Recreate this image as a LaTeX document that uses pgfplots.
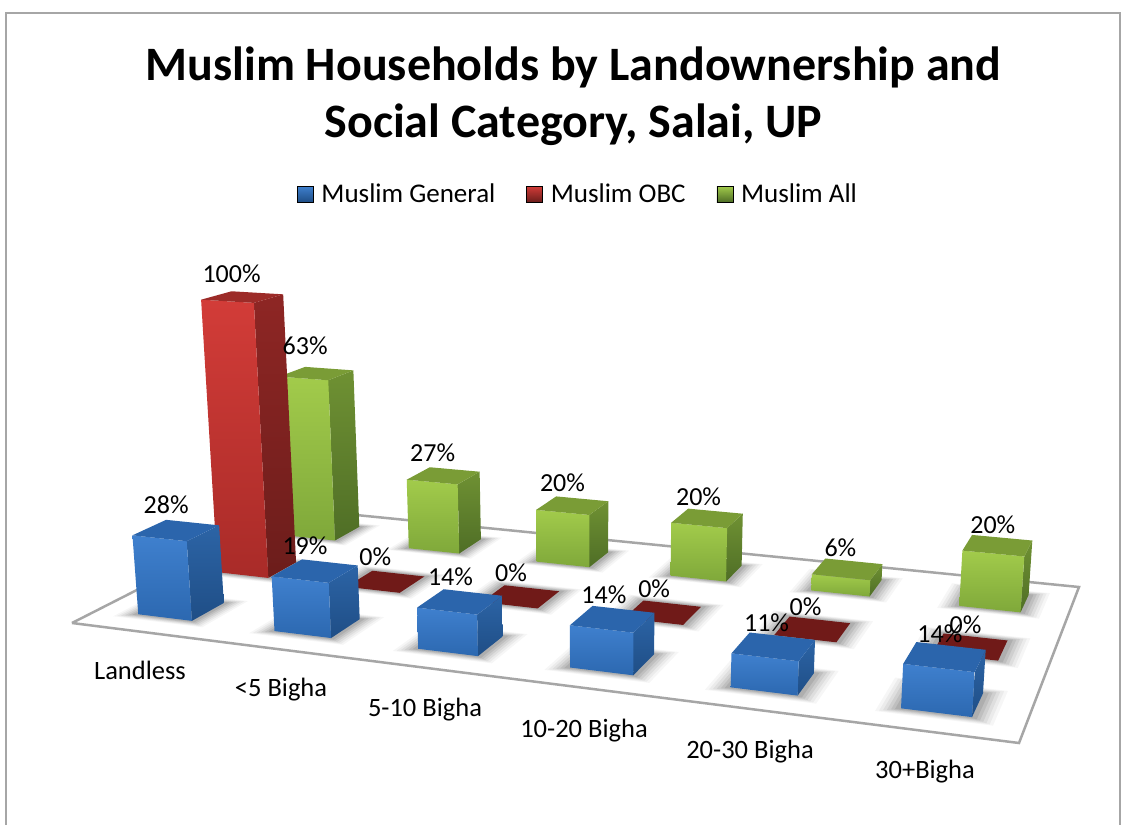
\documentclass[border=0pt]{standalone}
\usepackage{fontspec}
\setmainfont{Carlito}
\usepackage{pgfplots}
\pgfplotsset{compat=1.18}
\usepackage{pgfplotstable}

\definecolor{bfa}{HTML}{3F80CE}\definecolor{bfb}{HTML}{2C68B0}
\definecolor{bsa}{HTML}{2C64A6}\definecolor{bsb}{HTML}{1F4E86}
\definecolor{btop}{HTML}{2B65AC}
\definecolor{rfa}{HTML}{D23C38}\definecolor{rfb}{HTML}{A92B28}
\definecolor{rsa}{HTML}{8E2624}\definecolor{rsb}{HTML}{6C1D1B}
\definecolor{rtop}{HTML}{9C2B28}\definecolor{rflat}{HTML}{701A18}
\definecolor{gfa}{HTML}{A2CB4B}\definecolor{gfb}{HTML}{7FA83A}
\definecolor{gsa}{HTML}{6F9133}\definecolor{gsb}{HTML}{4F6E26}
\definecolor{gtop}{HTML}{7A9C36}
\definecolor{edge}{HTML}{A6A6A6}

% perspective of the floor: u = category, v = series, z = percent; result in picture pixels
\newcommand\PW[3]{(1-0.026407*#1+0.073863*#2-0.00045*#3)}
\newcommand\PX[3]{((130.925*#1+96.53*#2-0.27*#3+72)/\PW{#1}{#2}{#3})}
\newcommand\PY[3]{((0.38*#1-0.4033*#2-3.1*#3+623)/\PW{#1}{#2}{#3})}

\pgfplotsset{
  /pgfplots/table/box/.style n args={3}{
    x expr={\PX{(#1+.3+.4*\thisrow{a})}{(#2+.3+.4*\thisrow{b})}{(#3*\thisrow{c})}},
    y expr={\PY{(#1+.3+.4*\thisrow{a})}{(#2+.3+.4*\thisrow{b})}{(#3*\thisrow{c})}}},
  /pgfplots/table/shade box/.style n args={3}{
    x expr={\PX{(#1+.3-#3+(.4+2*#3)*\thisrow{a})}{(#2+.3-.7*#3+(.4+1.4*#3)*\thisrow{b})}{0}},
    y expr={\PY{(#1+.3-#3+(.4+2*#3)*\thisrow{a})}{(#2+.3-.7*#3+(.4+1.4*#3)*\thisrow{b})}{0}}},
}

\pgfplotstableread{
a b c
0 0 0
1 0 0
1 0 1
0 0 1
}\facefront
\pgfplotstableread{
a b c
1 0 0
1 1 0
1 1 1
1 0 1
}\faceside
\pgfplotstableread{
a b c
0 0 1
1 0 1
1 1 1
0 1 1
}\facetop

% k category, j series, value, dy nudge of the label
\pgfplotstableread{
k j h dy
0 2 63 -6
1 2 27 0
2 2 20 0
3 2 20 0
4 2 6 0
5 2 20 0
0 1 100 -3
1 1 0 0
2 1 0 0
3 1 0 0
4 1 0 0
5 1 0 0
0 0 28 0
1 0 19 0
2 0 14 0
3 0 14 0
4 0 11 0
5 0 14 0
}\bardata

\newcommand\barshadow[2]{%
  \addplot[forget plot, fill=black, draw=none, fill opacity=.035] table[shade box={#1}{#2}{.13}] \facetop;
  \addplot[forget plot, fill=black, draw=none, fill opacity=.045] table[shade box={#1}{#2}{.11}] \facetop;
  \addplot[forget plot, fill=black, draw=none, fill opacity=.055] table[shade box={#1}{#2}{.09}] \facetop;
  \addplot[forget plot, fill=black, draw=none, fill opacity=.065] table[shade box={#1}{#2}{.07}] \facetop;
  \addplot[forget plot, fill=black, draw=none, fill opacity=.075] table[shade box={#1}{#2}{.05}] \facetop;
  \addplot[forget plot, fill=black, draw=none, fill opacity=.085] table[shade box={#1}{#2}{.03}] \facetop;
}
\newcommand\cuboid[5]{%
  \barshadow{#1}{#2}%
  \ifnum#3>0
  \addplot[forget plot, draw=none, top color=#4sa, bottom color=#4sb] table[box={#1}{#2}{#3}] \faceside;
  \addplot[forget plot, draw=none, top color=#4fa, bottom color=#4fb] table[box={#1}{#2}{#3}] \facefront;
  \fi
  \addplot[forget plot, draw=none, fill=#5] table[box={#1}{#2}{#3}] \facetop;
}

\begin{document}
\begin{tikzpicture}
\path[use as bounding box] (0,0) rectangle (1131pt,825pt);
\begin{axis}[
    scale only axis,
    width=1131pt, height=825pt,
    xmin=0, xmax=1131, ymin=0, ymax=825,
    y dir=reverse,
    hide axis,
    clip=false,
    title={Muslim Households by Landownership and\\Social Category, Salai, UP},
    title style={at={(0.507,0.876)}, anchor=center, align=center,
      font=\fontsize{48}{57}\selectfont\bfseries},
    legend style={at={(axis cs:578,194)}, anchor=center, draw=none, fill=none,
      legend columns=3, font=\fontsize{27}{30}\selectfont,
      /tikz/every even column/.style={column sep=29pt},
      legend cell align=left},
]
% chart frame
\addplot[forget plot, edge, line width=1.5pt] coordinates {(6,825)(6,13)(1120,13)(1120,825)};

% floor
\addplot[forget plot, fill=white, draw=edge, line width=2.5pt, line join=miter]
  table[x expr={\PX{\thisrow{u}}{\thisrow{v}}{0}}, y expr={\PY{\thisrow{u}}{\thisrow{v}}{0}}, row sep=\\]
  {u v\\ 0 0\\ 6 0\\ 6 3\\ 0 3\\ 0 0\\};

% Muslim All
\cuboid{0}{2}{63}{g}{gtop}
\cuboid{1}{2}{27}{g}{gtop}
\cuboid{2}{2}{20}{g}{gtop}
\cuboid{3}{2}{20}{g}{gtop}
\cuboid{4}{2}{6}{g}{gtop}
\cuboid{5}{2}{20}{g}{gtop}
% Muslim OBC
\cuboid{0}{1}{100}{r}{rtop}
\cuboid{1}{1}{0}{r}{rflat}
\cuboid{2}{1}{0}{r}{rflat}
\cuboid{3}{1}{0}{r}{rflat}
\cuboid{4}{1}{0}{r}{rflat}
\cuboid{5}{1}{0}{r}{rflat}
% Muslim General
\cuboid{0}{0}{28}{b}{btop}
\cuboid{1}{0}{19}{b}{btop}
\cuboid{2}{0}{14}{b}{btop}
\cuboid{3}{0}{14}{b}{btop}
\cuboid{4}{0}{11}{b}{btop}
\cuboid{5}{0}{14}{b}{btop}

% value labels above the back left corner of each bar
\addplot[forget plot, draw=none, mark=none, point meta=explicit,
    nodes near coords={\pgfmathprintnumber[fixed,precision=0,/pgf/number format/assume math mode=true]{\pgfplotspointmeta}\%},
    every node near coord/.style={anchor=center, yshift=15pt, font=\fontsize{26}{30}\selectfont, text=black}]
  table[x expr={\PX{(\thisrow{k}*1.03+.3)}{(\thisrow{j}+.7-.015*\thisrow{k})}{\thisrow{h}}},
        y expr={\PY{(\thisrow{k}*1.03+.3)}{(\thisrow{j}+.7-.015*\thisrow{k})}{\thisrow{h}}+\thisrow{dy}}, meta=h] \bardata;

% category names
\begin{scope}[every node/.style={font=\fontsize{26.5}{30}\selectfont}]
\node at (axis cs:140,670) {Landless};
\node at (axis cs:281,690) {<5 Bigha};
\node at (axis cs:425,710) {5-10 Bigha};
\node at (axis cs:584,731) {10-20 Bigha};
\node at (axis cs:750,752) {20-30 Bigha};
\node at (axis cs:925,772) {30+Bigha};
\end{scope}

\addlegendimage{legend image code/.code={\path[top color=bfa, bottom color=bsb] (0pt,-8pt) rectangle (16pt,8pt); \path (22pt,0pt);}}
\addlegendentry{Muslim General}
\addlegendimage{legend image code/.code={\path[top color=rfa, bottom color=rsb] (0pt,-8pt) rectangle (16pt,8pt); \path (22pt,0pt);}}
\addlegendentry{Muslim OBC}
\addlegendimage{legend image code/.code={\path[top color=gfa, bottom color=gsb] (0pt,-8pt) rectangle (16pt,8pt); \path (22pt,0pt);}}
\addlegendentry{Muslim All}
\end{axis}
\end{tikzpicture}
\end{document}
